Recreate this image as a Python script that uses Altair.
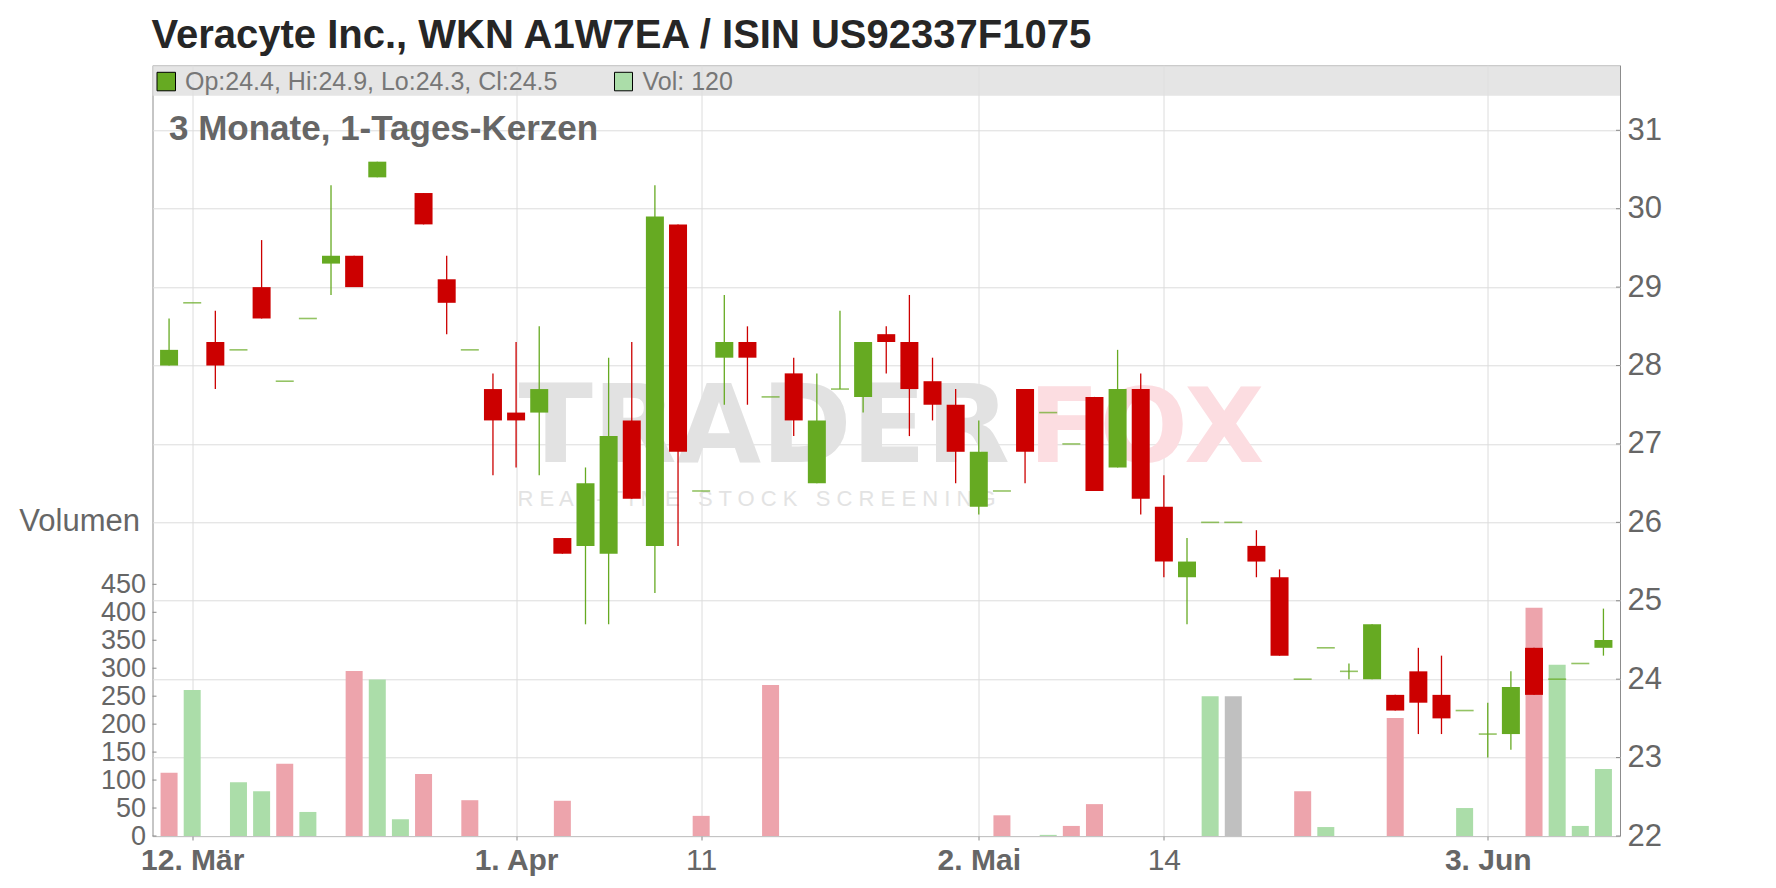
import altair as alt
import pandas as pd

# ---------------- data ----------------
# trading-day index 0..62 (11 Mar .. 10 Jun)
day_index = list(range(63))
opens = [28.0, 28.8, 28.3, 28.2, 29.0, 27.8, 28.6, 29.3, 29.4, 30.4,
         31.0, 30.2, 29.1, 28.2, 27.7, 27.4, 27.4, 25.8, 25.7, 25.6,
         27.3, 25.7, 29.8, 26.4, 28.1, 28.3, 27.6, 27.9, 26.5, 27.7,
         27.6, 28.4, 28.3, 27.8, 27.5, 26.2, 26.4, 27.7, 27.4, 27.0,
         27.6, 26.7, 27.7, 26.2, 25.3, 26.0, 26.0, 25.7, 25.3, 24.0,
         24.4, 24.1, 24.0, 23.8, 24.1, 23.8, 23.6, 23.3, 23.3, 24.4,
         24.0, 24.2, 24.4]
highs = [28.6, 28.8, 28.7, 28.2, 29.6, 27.8, 28.6, 30.3, 29.4, 30.6,
         31.0, 30.2, 29.4, 28.2, 27.9, 28.3, 28.5, 25.8, 26.7, 28.1,
         28.3, 30.3, 29.8, 26.4, 28.9, 28.5, 27.6, 28.1, 27.9, 28.7,
         28.3, 28.5, 28.9, 28.1, 27.7, 27.3, 26.4, 27.7, 27.4, 27.0,
         27.6, 28.2, 27.9, 26.6, 25.8, 26.0, 26.0, 25.9, 25.4, 24.0,
         24.4, 24.2, 24.7, 23.8, 24.4, 24.3, 23.6, 23.7, 24.1, 24.4,
         24.0, 24.2, 24.9]
lows = [28.0, 28.8, 27.7, 28.2, 28.6, 27.8, 28.6, 28.9, 29.0, 30.4,
        31.0, 29.8, 28.4, 28.2, 26.6, 26.7, 26.6, 25.6, 24.7, 24.7,
        26.3, 25.1, 25.7, 26.4, 27.5, 27.5, 27.6, 27.1, 26.5, 27.7,
        27.4, 27.9, 27.1, 27.3, 26.5, 26.1, 26.4, 26.5, 27.4, 27.0,
        26.4, 26.7, 26.1, 25.3, 24.7, 26.0, 26.0, 25.3, 24.3, 24.0,
        24.4, 24.0, 24.0, 23.6, 23.3, 23.3, 23.6, 23.0, 23.1, 23.8,
        24.0, 24.2, 24.3]
closes = [28.2, 28.8, 28.0, 28.2, 28.6, 27.8, 28.6, 29.4, 29.0, 30.6,
          31.0, 29.8, 28.8, 28.2, 27.3, 27.3, 27.7, 25.6, 26.5, 27.1,
          26.3, 29.9, 26.9, 26.4, 28.3, 28.1, 27.6, 27.3, 27.3, 27.7,
          28.3, 28.3, 27.7, 27.5, 26.9, 26.9, 26.4, 26.9, 27.4, 27.0,
          26.4, 27.7, 26.3, 25.5, 25.5, 26.0, 26.0, 25.5, 24.3, 24.0,
          24.4, 24.1, 24.7, 23.6, 23.7, 23.5, 23.6, 23.3, 23.9, 23.8,
          24.0, 24.2, 24.5]
volumes = [113, 261, 0, 96, 80, 129, 43, 0, 295, 280,
           30, 111, 0, 64, 0, 0, 0, 63, 0, 0,
           0, 0, 0, 36, 0, 0, 270, 0, 0, 0,
           0, 0, 0, 0, 0, 0, 37, 0, 2, 18,
           57, 0, 0, 0, 0, 250, 250, 0, 0, 80,
           16, 0, 0, 211, 0, 0, 50, 0, 0, 408,
           306, 18, 120]
first_vol_dir = "down"

xtick_idx = [1, 15, 23, 35, 43, 57]
xtick_labels = ["12. Mär", "1. Apr", "11", "2. Mai", "14", "3. Jun"]
xtick_bold = [1, 15, 35, 57]
price_ticks = list(range(22, 32))
vol_ticks = list(range(0, 451, 50))

title_text = "Veracyte Inc., WKN A1W7EA / ISIN US92337F1075"
subtitle_text = "3 Monate, 1-Tages-Kerzen"
vol_title = "Volumen"
NB = "\u00a0"
wm_sub_text = (" ".join("REAL-TIME") + NB * 3 + " ".join("STOCK") + NB * 3
               + " ".join("SCREENING"))

# ---------------- styling ----------------
W, H = 1467.5, 770.7
FONT = "Liberation Sans"
GREEN, RED = "#66aa22", "#cc0000"
VGREEN, VRED, VGREY = "#abdda9", "#eda4ac", "#c0c0c0"
GRID = "#dcdcdc"
TXT = "#666666"
AXC = "#888888"

rows = []
for k in day_index:
    o, h, l, c, v = opens[k], highs[k], lows[k], closes[k], volumes[k]
    if k == 0:
        vdir = first_vol_dir
    else:
        pc = closes[k - 1]
        vdir = "up" if c > pc else ("down" if c < pc else "flat")
    rows.append(dict(i=k, open=o, high=h, low=l, close=c, vol=v,
                     body_lo=min(o, c), body_hi=max(o, c),
                     cdir="down" if c < o else "up", vdir=vdir))
df = pd.DataFrame(rows)

label_expr = " : ".join(
    f"datum.value == {v} ? '{t}'" for v, t in zip(xtick_idx, xtick_labels)
) + " : ''"
bold_test = "indexof([" + ",".join(str(v) for v in xtick_bold) + "], datum.value) >= 0"

x_axis = alt.Axis(values=xtick_idx, labelExpr=label_expr, grid=True, gridColor=GRID,
                  gridWidth=1, domain=False, ticks=True, tickColor=AXC, tickSize=4,
                  labelFont=FONT, labelFontSize=30, labelColor=TXT, labelPadding=5,
                  labelFlush=False, labelOverlap=False,
                  labelFontWeight={"condition": {"test": bold_test, "value": "bold"},
                                   "value": "normal"},
                  title=None)
x_enc = alt.X("i:Q", scale=alt.Scale(domain=[-0.5, 62.5], nice=False, zero=False),
              axis=x_axis)

price_scale = alt.Scale(domain=[22, 31.829], nice=False, zero=False)
price_axis = alt.Axis(orient="right", values=price_ticks, grid=True, gridColor=GRID,
                      gridWidth=1, domain=False, ticks=False, labelFont=FONT,
                      labelFontSize=31, labelColor=TXT, labelPadding=7, format="d",
                      labelFlush=False, labelOverlap=False, title=None)

candle_color = alt.Color("cdir:N", scale=alt.Scale(domain=["up", "down"],
                                                   range=[GREEN, RED]), legend=None)

base = alt.Chart(df)

wicks = base.transform_filter("datum.high > datum.low").mark_rule(strokeWidth=1.3).encode(
    x=x_enc,
    y=alt.Y("low:Q", scale=price_scale, axis=price_axis),
    y2="high:Q",
    color=candle_color,
)
bodies = base.transform_filter("datum.open != datum.close").mark_bar(size=18).encode(
    x=x_enc,
    y=alt.Y("body_lo:Q", scale=price_scale, axis=price_axis),
    y2="body_hi:Q",
    color=candle_color,
)
dashes = base.transform_filter("datum.open == datum.close").mark_tick(
    orient="horizontal", size=18, thickness=1.6).encode(
    x=x_enc,
    y=alt.Y("close:Q", scale=price_scale, axis=price_axis),
    color=candle_color,
)
price_tick_marks = alt.Chart(pd.DataFrame({"low": price_ticks})).mark_rule(
    color=AXC, strokeWidth=1).encode(
    y=alt.Y("low:Q", scale=price_scale, axis=price_axis),
    x=alt.value(W - 4), x2=alt.value(W),
)
price_layer = alt.layer(wicks, bodies, dashes, price_tick_marks)

vol_axis = alt.Axis(orient="left", values=vol_ticks, grid=False, domain=False, ticks=False,
                    labelFont=FONT, labelFontSize=27, labelColor=TXT, labelPadding=7,
                    labelFlush=False, labelOverlap=False,
                    title=vol_title, titleAngle=0, titleAlign="right",
                    titleBaseline="middle", titleX=-13, titleY=456, titleFont=FONT,
                    titleFontSize=31, titleFontWeight="normal", titleColor=TXT)
vol_scale = alt.Scale(domain=[0, 1378], nice=False)
volume_bars = base.transform_filter("datum.vol > 0").mark_bar(size=17).encode(
    x=x_enc,
    y=alt.Y("vol:Q", scale=vol_scale, axis=vol_axis),
    color=alt.Color("vdir:N", scale=alt.Scale(domain=["up", "down", "flat"],
                                              range=[VGREEN, VRED, VGREY]), legend=None),
)
vol_tick_marks = alt.Chart(pd.DataFrame({"vol": vol_ticks})).mark_rule(
    color=AXC, strokeWidth=1).encode(
    y=alt.Y("vol:Q", scale=vol_scale, axis=vol_axis),
    x=alt.value(0), x2=alt.value(4),
)
volume = alt.layer(volume_bars, vol_tick_marks)

one = alt.Chart(pd.DataFrame({"a": [0]}))

wm_trader = one.mark_text(text="TRADER", font="DejaVu Sans", fontWeight="bold",
                          fontSize=109, color="#e2e2e2", align="left",
                          baseline="alphabetic").encode(x=alt.value(366), y=alt.value(396.7))
wm_fox = one.mark_text(text="FOX", font="DejaVu Sans", fontWeight="bold",
                       fontSize=104, color="#fcdde1", align="left",
                       baseline="alphabetic").encode(x=alt.value(876), y=alt.value(396.7))
wm_sub = one.mark_text(text=wm_sub_text, font=FONT, fontSize=22, color="#e3e3e3",
                       align="center", baseline="alphabetic").encode(
    x=alt.value(604), y=alt.value(441))

band = one.mark_rect(color="#dedede", opacity=0.8).encode(
    x=alt.value(0), x2=alt.value(W), y=alt.value(0), y2=alt.value(30.4))
sq_price = one.mark_rect(fill=GREEN, stroke="black", strokeWidth=1).encode(
    x=alt.value(4.5), x2=alt.value(23), y=alt.value(7), y2=alt.value(25.5))
sq_vol = one.mark_rect(fill=VGREEN, stroke="black", strokeWidth=1).encode(
    x=alt.value(462), x2=alt.value(480), y=alt.value(7), y2=alt.value(25.5))
last = len(day_index) - 1
ohlc_text = (f"Op:{opens[last]:.1f}, Hi:{highs[last]:.1f}, "
             f"Lo:{lows[last]:.1f}, Cl:{closes[last]:.1f}")
leg_price = one.mark_text(text=ohlc_text, font=FONT, fontSize=25, color="#777777",
                          align="left", baseline="alphabetic").encode(
    x=alt.value(32.5), y=alt.value(24.7))
leg_vol = one.mark_text(text=f"Vol: {volumes[last]}", font=FONT, fontSize=25,
                        color="#777777", align="left", baseline="alphabetic").encode(
    x=alt.value(490), y=alt.value(24.7))
subtitle = one.mark_text(text=subtitle_text, font=FONT, fontSize=35, fontWeight="bold",
                         color=TXT, align="left", baseline="alphabetic").encode(
    x=alt.value(16.5), y=alt.value(74.7))
title = one.mark_text(text=title_text, font=FONT, fontSize=40, fontWeight="bold",
                      color="#262626", align="left", baseline="alphabetic").encode(
    x=alt.value(-1), y=alt.value(-17.5))

chart = alt.layer(
    wm_trader, wm_fox, wm_sub, volume, price_layer,
    band, sq_price, sq_vol, leg_price, leg_vol, subtitle, title,
).resolve_scale(y="independent", color="independent").properties(
    width=W, height=H,
    autosize=alt.AutoSizeParams(type="none"),
    padding={"left": 144.5, "top": 57.3, "right": 148, "bottom": 44},
).configure_view(stroke="#8c8c8c", strokeWidth=1)

chart.save("out.html", embed_options={"renderer": "svg", "actions": False})
